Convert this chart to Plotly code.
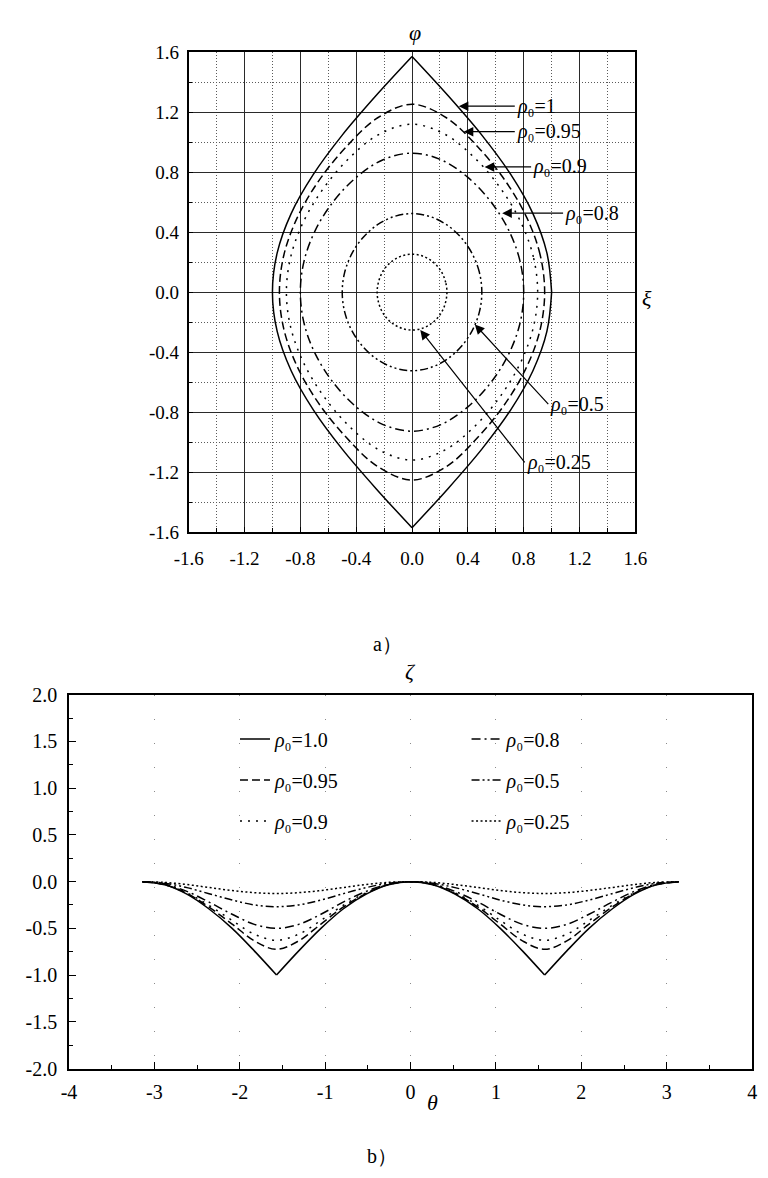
import plotly.graph_objects as go

# ---------------------------------------------------------------------------
# a) phase-plane orbits; first quadrant (xi >= 0, phi >= 0),
#    from the xi-axis crossing up to the top of each orbit
# ---------------------------------------------------------------------------
XI_100 = [1.000, 0.966, 0.866, 0.707, 0.500, 0.259, 0.0]
PHI_100 = [0.000, 0.262, 0.524, 0.785, 1.047, 1.309, 1.571]

XI_095 = [0.950, 0.918, 0.823, 0.672, 0.475, 0.246, 0.0]
PHI_095 = [0.000, 0.248, 0.495, 0.737, 0.965, 1.163, 1.253]

XI_090 = [0.900, 0.869, 0.779, 0.636, 0.450, 0.233, 0.0]
PHI_090 = [0.000, 0.235, 0.467, 0.690, 0.894, 1.054, 1.120]

XI_080 = [0.800, 0.773, 0.693, 0.566, 0.400, 0.207, 0.0]
PHI_080 = [0.000, 0.209, 0.412, 0.601, 0.765, 0.883, 0.927]

XI_050 = [0.500, 0.483, 0.433, 0.354, 0.250, 0.129, 0.0]
PHI_050 = [0.000, 0.130, 0.253, 0.361, 0.448, 0.504, 0.524]

XI_025 = [0.250, 0.241, 0.217, 0.177, 0.125, 0.065, 0.0]
PHI_025 = [0.000, 0.065, 0.125, 0.178, 0.218, 0.244, 0.253]

# ---------------------------------------------------------------------------
# b) zeta over one full turn of theta
# ---------------------------------------------------------------------------
THETA = [-3.14, -2.88, -2.62, -2.36, -2.09, -1.83, -1.57, -1.31, -1.05, -0.79,
         -0.52, -0.26, 0.00, 0.26, 0.52, 0.79, 1.05, 1.31, 1.57, 1.83, 2.09,
         2.36, 2.62, 2.88, 3.14]

ZETA_100 = [0.0, -0.034, -0.134, -0.293, -0.500, -0.741, -1.000, -0.741, -0.500,
            -0.293, -0.134, -0.034, 0.0, -0.034, -0.134, -0.293, -0.500, -0.741,
            -1.000, -0.741, -0.500, -0.293, -0.134, -0.034, 0.0]
ZETA_095 = [0.0, -0.032, -0.126, -0.273, -0.454, -0.634, -0.724, -0.634, -0.454,
            -0.273, -0.126, -0.032, 0.0, -0.032, -0.126, -0.273, -0.454, -0.634,
            -0.724, -0.634, -0.454, -0.273, -0.126, -0.032, 0.0]
ZETA_090 = [0.0, -0.031, -0.119, -0.254, -0.415, -0.562, -0.627, -0.562, -0.415,
            -0.254, -0.119, -0.031, 0.0, -0.031, -0.119, -0.254, -0.415, -0.562,
            -0.627, -0.562, -0.415, -0.254, -0.119, -0.031, 0.0]
ZETA_080 = [0.0, -0.027, -0.104, -0.219, -0.349, -0.457, -0.500, -0.457, -0.349,
            -0.219, -0.104, -0.027, 0.0, -0.027, -0.104, -0.219, -0.349, -0.457,
            -0.500, -0.457, -0.349, -0.219, -0.104, -0.027, 0.0]
ZETA_050 = [0.0, -0.017, -0.064, -0.129, -0.197, -0.249, -0.268, -0.249, -0.197,
            -0.129, -0.064, -0.017, 0.0, -0.017, -0.064, -0.129, -0.197, -0.249,
            -0.268, -0.249, -0.197, -0.129, -0.064, -0.017, 0.0]
ZETA_025 = [0.0, -0.008, -0.031, -0.063, -0.095, -0.118, -0.127, -0.118, -0.095,
            -0.063, -0.031, -0.008, 0.0, -0.008, -0.031, -0.063, -0.095, -0.118,
            -0.127, -0.118, -0.095, -0.063, -0.031, -0.008, 0.0]

RHO_B = ["1.0", "0.95", "0.9", "0.8", "0.5", "0.25"]

X_TICKS_A = [-1.6, -1.2, -0.8, -0.4, 0.0, 0.4, 0.8, 1.2, 1.6]
Y_TICKS_A = [-1.6, -1.2, -0.8, -0.4, 0.0, 0.4, 0.8, 1.2, 1.6]
X_TICKS_B = [-4, -3, -2, -1, 0, 1, 2, 3, 4]
Y_TICKS_B = [-2.0, -1.5, -1.0, -0.5, 0.0, 0.5, 1.0, 1.5, 2.0]

# line styles, one per rho_0
DASHES = ["solid", "8px,4px", "2px,6px", "9px,4px,2px,4px",
          "8px,3px,2px,3px,2px,3px", "2px,2.5px"]
CUSPED = [True, False, False, False, False, False]

SERIF = "Times New Roman, Liberation Serif, DejaVu Serif, serif"
W, H = 768, 1178
RHO0 = "<i>ρ</i>₀="


def closed_orbit(xq, yq):
    """Reflect a first-quadrant arc into the full closed orbit."""
    n = len(xq)
    xs = list(xq) + [-xq[i] for i in range(n - 2, -1, -1)]
    ys = list(yq) + [yq[i] for i in range(n - 2, -1, -1)]
    xs += [-xq[i] for i in range(1, n)] + [xq[i] for i in range(n - 2, -1, -1)]
    ys += [-yq[i] for i in range(1, n)] + [-yq[i] for i in range(n - 2, -1, -1)]
    return xs, ys


def split_at(xs, ys, idx):
    """Break a path into open pieces at the given indices (keeps cusps sharp)."""
    outx, outy = [], []
    start = 0
    for k in list(idx) + [len(xs) - 1]:
        outx += xs[start:k + 1] + [None]
        outy += ys[start:k + 1] + [None]
        start = k
    return outx[:-1], outy[:-1]


def minus(v, fmt):
    s = fmt.format(abs(v))
    return ("-" + s) if v < 0 else s


fig = go.Figure()

# ---- panel a -----------------------------------------------------------------
orbits = [(XI_100, PHI_100), (XI_095, PHI_095), (XI_090, PHI_090),
          (XI_080, PHI_080), (XI_050, PHI_050), (XI_025, PHI_025)]
for (xq, yq), dash, cusp in zip(orbits, DASHES, CUSPED):
    xs, ys = closed_orbit(xq, yq)
    if cusp:
        n = len(xq)
        xs, ys = split_at(xs, ys, [n - 1, 3 * (n - 1)])
    fig.add_trace(go.Scatter(
        x=xs, y=ys, mode="lines", xaxis="x", yaxis="y", showlegend=False,
        hoverinfo="skip",
        line=dict(color="black", width=1.5, dash=dash, shape="spline", smoothing=1.0),
    ))

# ---- panel b -----------------------------------------------------------------
profiles = [ZETA_100, ZETA_095, ZETA_090, ZETA_080, ZETA_050, ZETA_025]
for i, (zz, dash, cusp, lab) in enumerate(zip(profiles, DASHES, CUSPED, RHO_B)):
    xs, ys = list(THETA), list(zz)
    if cusp:
        lows = [k for k, v in enumerate(zz) if v == min(zz)]
        xs, ys = split_at(xs, ys, lows)
    fig.add_trace(go.Scatter(
        x=xs, y=ys, mode="lines", xaxis="x2", yaxis="y2",
        name=RHO0 + lab,
        legend="legend" if i < 3 else "legend2",
        legendgroup="g%d" % i,
        hoverinfo="skip",
        line=dict(color="black", width=1.5, dash=dash, shape="spline", smoothing=1.0),
    ))

tick_font = dict(family=SERIF, size=19, color="black")
tick_font_b = dict(family=SERIF, size=20, color="black")

axis_a = dict(
    range=[-1.6, 1.6], showline=True, linecolor="black", linewidth=1.5, mirror=True,
    showgrid=True, gridcolor="#2a2a2a", gridwidth=1, zeroline=False,
    ticks="inside", ticklen=5, tickcolor="black", tickfont=tick_font,
    minor=dict(dtick=0.2, tick0=0, showgrid=True, gridcolor="#5a5a5a",
               griddash="1px,2px", gridwidth=1, ticks="inside", ticklen=4,
               tickcolor="black"),
)

fig.update_layout(
    width=W, height=H, margin=dict(l=0, r=0, t=0, b=0),
    paper_bgcolor="white", plot_bgcolor="white",
    font=dict(family=SERIF, color="black", size=19),
    xaxis=dict(axis_a, domain=[180 / W, 643 / W], anchor="y",
               tickvals=X_TICKS_A, ticktext=[minus(v, "{:.1f}") for v in X_TICKS_A],
               ticklabelstandoff=8),
    yaxis=dict(axis_a, domain=[1 - 531 / H, 1 - 42 / H], anchor="x",
               tickvals=Y_TICKS_A, ticktext=[minus(v, "{:.1f}") for v in Y_TICKS_A],
               ticklabelstandoff=4),
    xaxis2=dict(
        domain=[56 / W, 764 / W], anchor="y2", range=[-4, 4],
        showline=True, linecolor="black", linewidth=1.5, mirror=True,
        showgrid=True, gridcolor="#8a8a8a", gridwidth=1, griddash="1px,23px",
        zeroline=False, ticks="inside", ticklen=7, tickcolor="black",
        tickvals=X_TICKS_B, ticktext=[minus(v, "{:d}") for v in X_TICKS_B],
        tickfont=tick_font_b, ticklabelstandoff=5,
        minor=dict(dtick=0.5, tick0=0, ticks="inside", ticklen=4, tickcolor="black"),
    ),
    yaxis2=dict(
        domain=[1 - 1077.7 / H, 1 - 696.7 / H], anchor="x2", range=[-2, 2],
        showline=True, linecolor="black", linewidth=1.5, mirror=True,
        showgrid=False, zeroline=False, ticks="inside", ticklen=7, tickcolor="black",
        tickvals=Y_TICKS_B, ticktext=[minus(v, "{:.1f}") for v in Y_TICKS_B],
        tickfont=tick_font_b, ticklabelstandoff=6,
        minor=dict(dtick=0.25, tick0=0, ticks="inside", ticklen=4, tickcolor="black"),
    ),
    legend=dict(x=228 / W, y=1 - 722 / H, xanchor="left", yanchor="top",
                bgcolor="rgba(0,0,0,0)", font=dict(family=SERIF, size=20),
                tracegroupgap=12, traceorder="grouped"),
    legend2=dict(x=468 / W, y=1 - 722 / H, xanchor="left", yanchor="top",
                 bgcolor="rgba(0,0,0,0)", font=dict(family=SERIF, size=20),
                 tracegroupgap=12, traceorder="grouped"),
)

# axis symbols, panel captions
labels = [
    ("<i>φ</i>", 415, 22, 22),
    ("<i>ξ</i>", 655, 293, 22),
    ("<i>ζ</i>", 410, 673, 22),
    ("<i>θ</i>", 433, 1112, 22),
    ("a）", 386, 645, 20),
    ("b）", 380, 1167, 20),
]
for txt, px, py, sz in labels:
    fig.add_annotation(text=txt, xref="paper", yref="paper", x=px / W, y=1 - py / H,
                       xanchor="center", yanchor="middle", showarrow=False,
                       font=dict(family=SERIF, size=sz, color="black"))

# arrowed callouts on panel a: (label, tip xi, tip phi, tail xi, tail phi)
CALLOUTS = [
    ("1", 0.335, 1.240, 0.736, 1.240),
    ("0.95", 0.370, 1.070, 0.736, 1.070),
    ("0.9", 0.520, 0.835, 0.853, 0.835),
    ("0.8", 0.646, 0.527, 1.082, 0.527),
    ("0.5", 0.450, -0.215, 0.976, -0.747),
    ("0.25", 0.059, -0.252, 0.807, -1.135),
]
for lab, tx, ty, sx, sy in CALLOUTS:
    fig.add_annotation(
        text=RHO0 + lab, xref="x", yref="y", axref="x", ayref="y",
        x=tx, y=ty, ax=sx, ay=sy, xanchor="left", yanchor="middle",
        showarrow=True, arrowhead=2, arrowsize=1.6, arrowwidth=1.2, arrowcolor="black",
        standoff=0, borderpad=1, font=dict(family=SERIF, size=20, color="black"),
    )

fig.write_html("out.html")
